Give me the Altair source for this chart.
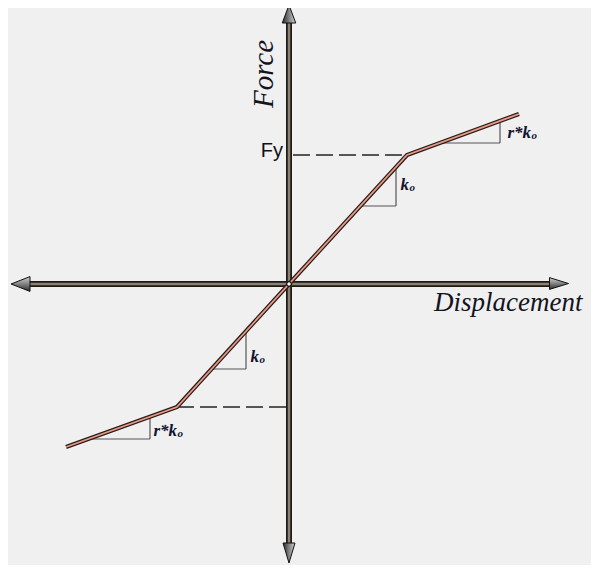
import altair as alt
import pandas as pd

# ---- data (in picture-pixel coordinates of the diagram) ----
curve_x = [66, 177, 289, 407, 519]
curve_y = [447, 407, 284, 155, 114]

# axes (segments)
axis_x1 = [30, 289]
axis_y1 = [284, 23]
axis_x2 = [550, 289]
axis_y2 = [284, 543]

# dashed guide lines to the yield points
dash_x1 = [293, 177]
dash_y1 = [155, 407]
dash_x2 = [405, 287]
dash_y2 = [155, 407]

# stiffness triangles (vertical + horizontal legs)
tri_x1 = [396, 360, 500, 441, 246, 212, 150, 89]
tri_y1 = [167, 206, 121, 143, 331, 369, 417, 439]
tri_x2 = [396, 396, 500, 500, 246, 246, 150, 150]
tri_y2 = [206, 206, 143, 143, 369, 369, 439, 439]

# stiffness labels: main part and subscript
lab_main = ["k", "r*k", "k", "r*k"]
lab_x = [409, 531, 259, 177]
lab_y = [190, 138, 362, 436]
lab_sub = ["o", "o", "o", "o"]

W, H = 583, 557
X0, Y0 = 8, 8
xs = alt.Scale(domain=[X0, X0 + W], nice=False, zero=False)
ys = alt.Scale(domain=[Y0, Y0 + H], nice=False, zero=False, reverse=True)


def seg_df(x1, y1, x2, y2):
    return pd.DataFrame({"x": x1, "y": y1, "x2": x2, "y2": y2})


def rules(df, color, width, dash=None):
    kw = dict(color=color, strokeWidth=width, strokeCap="butt")
    if dash:
        kw["strokeDash"] = dash
    return alt.Chart(df).mark_rule(**kw).encode(
        x=alt.X("x:Q", scale=xs, axis=None),
        y=alt.Y("y:Q", scale=ys, axis=None),
        x2="x2:Q",
        y2="y2:Q",
    )


def arrow(px, py, path, size, grad):
    df = pd.DataFrame({"x": [px], "y": [py]})
    return alt.Chart(df).mark_point(
        shape=path, size=size, filled=True, fill=grad, fillOpacity=1,
        stroke="#111111", strokeWidth=1, opacity=1,
    ).encode(
        x=alt.X("x:Q", scale=xs, axis=None),
        y=alt.Y("y:Q", scale=ys, axis=None),
    )


def grad(x1, y1, x2, y2):
    return alt.Gradient(
        gradient="linear", x1=x1, y1=y1, x2=x2, y2=y2,
        stops=[alt.GradientStop(color="#2a2a2a", offset=0),
               alt.GradientStop(color="#8a8a8a", offset=0.55),
               alt.GradientStop(color="#d0d0d0", offset=1)],
    )


axes_df = seg_df(axis_x1, axis_y1, axis_x2, axis_y2)
axis_outer = rules(axes_df, "#1e1a16", 6)
axis_inner = rules(axes_df, "#8a8272", 2.5)

dash_layer = rules(seg_df(dash_x1, dash_y1, dash_x2, dash_y2), "#222222", 1.3, [17, 6])
tri_layer = rules(seg_df(tri_x1, tri_y1, tri_x2, tri_y2), "#555555", 1.2)

curve_df = pd.DataFrame({"x": curve_x, "y": curve_y, "o": list(range(len(curve_x)))})


def curve(color, width):
    return alt.Chart(curve_df).mark_line(color=color, strokeWidth=width, strokeJoin="miter").encode(
        x=alt.X("x:Q", scale=xs, axis=None),
        y=alt.Y("y:Q", scale=ys, axis=None),
        order="o:Q",
    )


curve_outer = curve("#2a1c1a", 4.2)
curve_inner = curve("#e89a86", 1.8)

origin = alt.Chart(pd.DataFrame({"x": [289], "y": [284]})).mark_point(
    shape="circle", size=22, filled=True, fill="#ffffff", stroke="#111111",
    strokeWidth=1.2, opacity=1,
).encode(x=alt.X("x:Q", scale=xs, axis=None), y=alt.Y("y:Q", scale=ys, axis=None))

a_up = arrow(289, 14, "M0,-1L0.75,1L-0.75,1Z", 18 * 18, grad(0, 0, 1, 0))
a_down = arrow(289, 553, "M0,1L0.6,-1L-0.6,-1Z", 20 * 20, grad(0, 0, 1, 0))
a_left = arrow(20.5, 284, "M-1,0L1,-0.78L1,0.78Z", 19 * 19, grad(0, 1, 0, 0))
a_right = arrow(559, 283.5, "M1,0L-1,-0.62L-1,0.62Z", 19 * 19, grad(0, 1, 0, 0))


def text_layer(df, **kw):
    return alt.Chart(df).mark_text(**kw).encode(
        x=alt.X("x:Q", scale=xs, axis=None),
        y=alt.Y("y:Q", scale=ys, axis=None),
        text="t:N",
    )


force = text_layer(pd.DataFrame({"x": [273], "y": [74], "t": ["Force"]}),
                   font="Liberation Serif", fontStyle="italic", fontSize=29, angle=270,
                   align="center", baseline="alphabetic", color="#141420")
disp = text_layer(pd.DataFrame({"x": [434], "y": [311], "t": ["Displacement"]}),
                  font="Liberation Serif", fontStyle="italic", fontSize=27,
                  align="left", baseline="alphabetic", color="#141420")
fy = text_layer(pd.DataFrame({"x": [283], "y": [157], "t": ["Fy"]}),
                font="Liberation Sans", fontSize=20, align="right",
                baseline="alphabetic", color="#111111")

lab_df = pd.DataFrame({"x": lab_x, "y": lab_y, "t": lab_main})
sub_df = pd.DataFrame({"x": [v + 0.5 for v in lab_x], "y": [v + 1 for v in lab_y], "t": lab_sub})
labs = text_layer(lab_df, font="Liberation Serif", fontStyle="italic", fontWeight="bold",
                  fontSize=17, align="right", baseline="alphabetic", color="#141432")
subs = text_layer(sub_df, font="Liberation Serif", fontStyle="italic", fontWeight="bold",
                  fontSize=11, align="left", baseline="alphabetic", color="#141432")

chart = alt.layer(
    dash_layer, tri_layer, axis_outer, axis_inner,
    a_up, a_down, a_left, a_right,
    curve_outer, curve_inner, origin,
    force, disp, fy, labs, subs,
).properties(
    width=W, height=H, background="#f0f0f0", padding=0,
    autosize=alt.AutoSizeParams(type="none"),
).configure_view(stroke=None)

chart.save("out.html", embed_options={"renderer": "svg", "actions": False})
